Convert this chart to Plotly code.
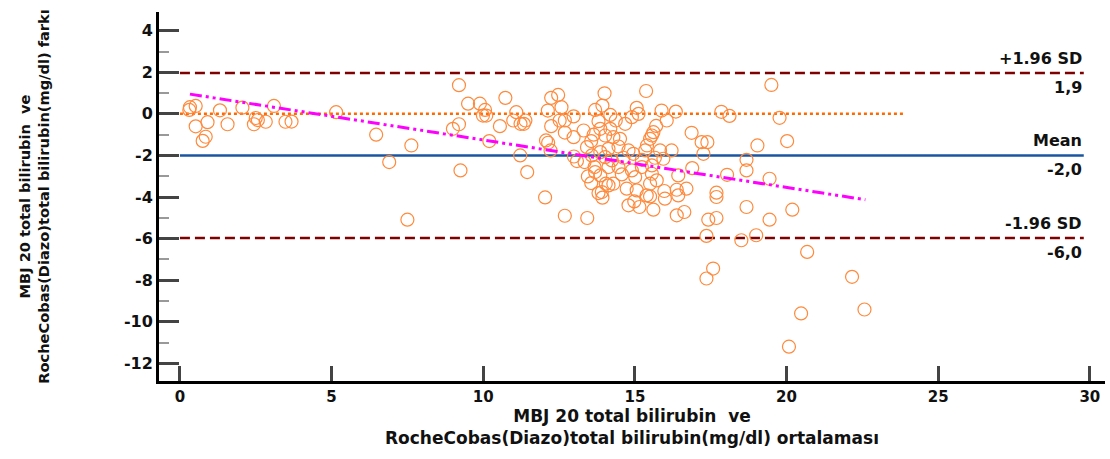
import plotly.graph_objects as go

# Scatter data: mean of methods (x) vs difference (y)
x_vals = [0.31,0.33,0.52,0.52,0.91,0.85,0.75,1.32,1.57,2.06,2.44,2.5,2.57,2.83,3.1,3.48,3.68,5.15,6.47,6.9,7.63,7.5,9.2,9.0,9.2,9.25,
          9.5,9.89,10.06,9.99,10.1,10.73,10.55,10.2,11.09,10.99,11.23,11.34,11.39,11.22,11.45,12.04,12.69,13.43,12.24,12.47,12.13,12.58,12.52,12.69,12.98,12.24,12.69,12.98,12.07,12.14,12.22,12.99,13.09,13.31,13.34,13.56,13.64,13.42,13.58,13.67,13.45,13.56,13.8,13.93,14.04,14.0,13.93,13.69,13.8,13.86,13.69,
          15.37,15.06,15.88,16.35,17.85,18.12,14.19,14.37,14.68,14.9,15.12,16.05,15.7,14.19,14.02,14.29,14.51,15.56,15.61,15.5,16.87,17.2,17.39,17.26,14.46,14.13,14.79,15.34,15.83,16.21,14.95,15.4,14.02,13.86,14.24,14.62,15.23,15.66,15.94,14.13,14.46,14.9,15.23,15.56,13.86,14.57,15.01,15.56,16.43,16.89,18.04,18.68,15.72,15.5,14.13,14.29,14.73,13.91,15.06,15.39,15.5,15.97,15.99,16.38,16.43,16.7,17.69,17.69,14.79,15.15,14.98,15.61,16.38,16.63,17.42,17.69,18.68,17.36,18.51,17.58,17.36,
          19.5,19.77,19.04,20.02,18.68,19.44,20.19,19.44,19.0,20.68,22.16,22.57,20.48,20.08]
y_vals = [0.19,0.32,0.38,-0.6,-0.4,-1.1,-1.3,0.17,-0.5,0.3,-0.5,-0.2,-0.3,-0.38,0.38,-0.38,-0.37,0.08,-1.0,-2.32,-1.52,-5.09,1.38,-0.72,-0.5,-2.72,
          0.49,0.49,0.19,-0.08,-0.08,0.77,-0.59,-1.31,0.08,-0.32,-0.48,-0.48,-0.32,-2.0,-2.8,-4.02,-4.9,-5.01,0.77,0.91,0.16,0.32,-0.32,-0.32,-0.12,-0.59,-0.9,-1.12,-1.28,-1.39,-1.76,-2.05,-2.27,-0.8,-2.32,-1.31,-1.0,-1.6,-2.0,-2.56,-3.01,-3.33,-3.81,-4.03,-3.36,0.99,0.4,0.19,-0.35,-0.72,-2.8,
          1.1,0.29,0.16,0.11,0.1,-0.1,-0.05,-0.32,-0.48,-0.16,0.0,-0.32,-0.58,-0.72,-1.04,-1.12,-1.2,-1.04,-0.88,-1.2,-0.91,-1.36,-1.36,-1.92,-1.57,-1.68,-1.76,-1.76,-1.76,-1.76,-1.92,-1.52,-2.08,-1.84,-2.24,-2.11,-2.21,-2.11,-2.16,-2.56,-2.56,-2.72,-2.56,-2.48,-2.96,-2.91,-3.04,-2.88,-2.96,-2.61,-2.93,-2.72,-3.2,-3.36,-3.44,-3.36,-3.6,-3.76,-3.68,-3.92,-3.97,-3.71,-4.08,-3.65,-3.92,-3.6,-3.79,-4.0,-4.4,-4.48,-4.21,-4.61,-4.88,-4.72,-5.09,-5.01,-4.48,-5.87,-6.08,-7.44,-7.92,
          1.39,-0.19,-1.52,-1.31,-2.21,-3.12,-4.61,-5.09,-5.84,-6.64,-7.84,-9.41,-9.6,-11.2]

mean_diff = -2.0
upper_loa = 1.97
lower_loa = -5.97
line_x = [0, 29.8]
zero_x = [0, 23.9]
reg_x = [0.33, 22.6]
reg_y = [0.95, -4.13]
x_ticks = [0, 5, 10, 15, 20, 25, 30]
y_ticks = [4, 2, 0, -2, -4, -6, -8, -10, -12]

FONT = "DejaVu Sans"

fig = go.Figure()
fig.add_trace(go.Scatter(x=zero_x, y=[0, 0], mode="lines",
                         line=dict(color="#FF6A00", width=2.5, dash="dot"), showlegend=False))
fig.add_trace(go.Scatter(x=line_x, y=[upper_loa, upper_loa], mode="lines",
                         line=dict(color="#7F0000", width=2.5, dash="10px,5px"), showlegend=False))
fig.add_trace(go.Scatter(x=line_x, y=[lower_loa, lower_loa], mode="lines",
                         line=dict(color="#7F0000", width=2.5, dash="10px,5px"), showlegend=False))
fig.add_trace(go.Scatter(x=line_x, y=[mean_diff, mean_diff], mode="lines",
                         line=dict(color="#1A56A0", width=2.5), showlegend=False))
fig.add_trace(go.Scatter(x=x_vals, y=y_vals, mode="markers",
                         marker=dict(symbol="circle-open", size=13, color="#FF8A3D",
                                     line=dict(width=1.2, color="#FF8A3D")),
                         showlegend=False))
fig.add_trace(go.Scatter(x=reg_x, y=reg_y, mode="lines",
                         line=dict(color="#FF00FF", width=3, dash="12px,4px,3px,4px,3px,4px"),
                         showlegend=False))

ann_font = dict(family=FONT, size=16, color="#111")
labels = [("+1.96 SD", upper_loa, "bottom"), ("1,9", upper_loa, "top"),
          ("Mean", mean_diff, "bottom"), ("-2,0", mean_diff, "top"),
          ("-1.96 SD", lower_loa, "bottom"), ("-6,0", lower_loa, "top")]
for txt, yv, pos in labels:
    fig.add_annotation(x=29.8, y=yv, text="<b>%s</b>" % txt, showarrow=False,
                       xanchor="right", yanchor=pos, yshift=(3 if pos == "bottom" else -3),
                       font=ann_font)

fig.update_xaxes(range=[-0.69, 30.5], tickvals=x_ticks,
                 ticktext=["<b>%d</b>" % v for v in x_ticks],
                 showline=True, linecolor="black", linewidth=3,
                 ticks="inside", ticklen=15, tickwidth=2.5, tickcolor="#444",
                 showgrid=False, zeroline=False,
                 tickfont=dict(family=FONT, size=15, color="#111"),
                 title=dict(text="<b>MBJ 20 total bilirubin  ve<br>RocheCobas(Diazo)total bilirubin(mg/dl) ortalaması</b>",
                            font=dict(family=FONT, size=17, color="#111"), standoff=5))
fig.update_yaxes(range=[-12.85, 4.9], tickvals=y_ticks,
                 ticktext=["<b>%d</b>" % v for v in y_ticks],
                 showline=True, linecolor="black", linewidth=3,
                 ticks="inside", ticklen=20, tickwidth=2.5, tickcolor="#444",
                 minor=dict(dtick=1, ticks="inside", ticklen=10, tickwidth=1.5, tickcolor="#999"),
                 showgrid=False, zeroline=False,
                 tickfont=dict(family=FONT, size=16, color="#111"),
                 title=dict(text="<b>MBJ 20 total bilirubin  ve<br>RocheCobas(Diazo)total bilirubin(mg/dl) farkı</b>",
                            font=dict(family=FONT, size=14.6, color="#111"), standoff=71))
fig.update_layout(width=1110, height=459, margin=dict(l=159, r=5, t=12, b=78),
                  plot_bgcolor="white", paper_bgcolor="white")
fig.write_html("out.html")
